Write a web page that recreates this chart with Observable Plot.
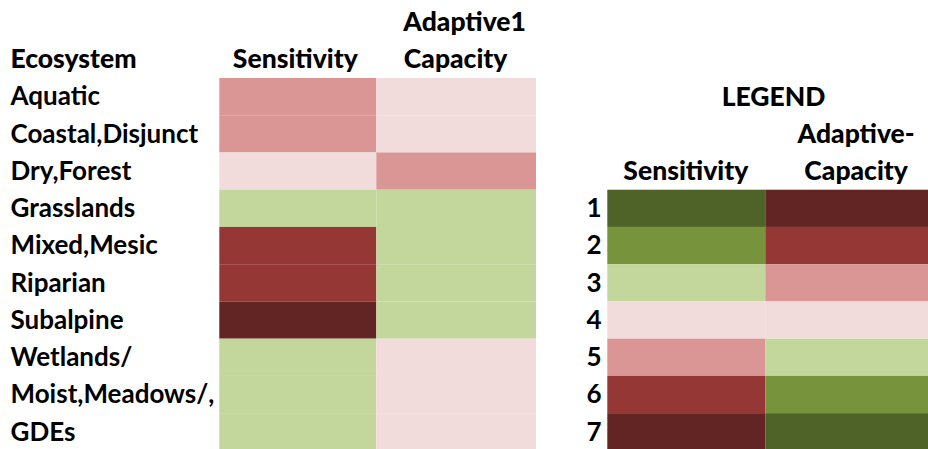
<!DOCTYPE html>
<html>
<head>
<meta charset="utf-8">
<script src="https://cdn.jsdelivr.net/npm/d3@7"></script>
<script src="https://cdn.jsdelivr.net/npm/@observablehq/plot@0.6"></script>
<style>
  html, body { margin: 0; padding: 0; background: #fff; }
  #chart svg { display: block; }
</style>
</head>
<body>
<div id="chart"></div>
<script>
// ---- data ----
const ecosystems = ["Aquatic", "Coastal,Disjunct", "Dry,Forest", "Grasslands", "Mixed,Mesic", "Riparian", "Subalpine", "Wetlands/", "Moist,Meadows/,", "GDEs"];
const sensitivity = [5, 5, 4, 3, 6, 6, 7, 3, 3, 3];
const adaptiveCapacity = [4, 4, 3, 5, 5, 5, 5, 4, 4, 4];
const legendLevels = [1, 2, 3, 4, 5, 6, 7];
const sensitivityColors = ["#4F6228", "#77933C", "#C3D69B", "#F2DCDB", "#D99694", "#953735", "#632523"];
const adaptiveColors = ["#632523", "#953735", "#D99694", "#F2DCDB", "#C3D69B", "#77933C", "#4F6228"];

// ---- layout (pixel columns, row units) ----
const layout = {
  sens: [219.3, 376.3], ac: [376.3, 536],
  legSens: [607.3, 765.3], legAC: [765.3, 928],
  labelX: 10, numX: 601, legendRowOffset: 2
};
const center = c => (layout[c][0] + layout[c][1]) / 2;

const cells = [];
ecosystems.forEach((e, i) => {
  cells.push({row: i, col: "sens", fill: sensitivityColors[sensitivity[i] - 1]});
  cells.push({row: i, col: "ac", fill: adaptiveColors[adaptiveCapacity[i] - 1]});
});
legendLevels.forEach(l => {
  cells.push({row: l + layout.legendRowOffset, col: "legSens", fill: sensitivityColors[l - 1]});
  cells.push({row: l + layout.legendRowOffset, col: "legAC", fill: adaptiveColors[l - 1]});
});

const headers = [
  {text: "Sensitivity", x: center("sens") - 3, row: -1},
  {text: "Adaptive1", x: center("ac") + 8, row: -2},
  {text: "Capacity", x: center("ac") - 1, row: -1},
  {text: "LEGEND", x: 773, row: 0},
  {text: "Adaptive-", x: center("legAC") + 9, row: 1},
  {text: "Capacity", x: center("legAC") + 9, row: 2},
  {text: "Sensitivity", x: center("legSens") - 1, row: 2}
];

const font = "Lato, 'Open Sans', sans-serif";

const chart = Plot.plot({
  width: 928,
  height: 449,
  margin: 0,
  style: {fontFamily: font, background: "#fff"},
  x: {type: "linear", domain: [0, 928], range: [0, 928], axis: null},
  y: {type: "linear", domain: [-2, 10], range: [3.5, 450.4], axis: null},
  color: {type: "identity"},
  marks: [
    Plot.rect(cells, {
      x1: d => layout[d.col][0], x2: d => layout[d.col][1],
      y1: "row", y2: d => d.row + 1,
      fill: "fill"
    }),
    Plot.text(ecosystems, {
      x: () => layout.labelX, y: (d, i) => i + 0.5, text: d => d,
      textAnchor: "start", fontSize: 26, fontWeight: 700, fill: "#000"
    }),
    Plot.text(legendLevels, {
      x: () => layout.numX, y: d => d + layout.legendRowOffset + 0.5, text: d => String(d),
      textAnchor: "end", fontSize: 26, fontWeight: 700, fill: "#000"
    }),
    Plot.text(["Ecosystem"], {
      x: () => layout.labelX, y: () => -0.5, text: d => d,
      textAnchor: "start", fontSize: 26.5, fontWeight: 900, fill: "#000"
    }),
    Plot.text(headers, {
      x: "x", y: d => d.row + 0.5, text: "text",
      textAnchor: "middle", fontSize: 26.5, fontWeight: 900, fill: "#000"
    })
  ]
});
document.getElementById("chart").appendChild(chart);
</script>
</body>
</html>
